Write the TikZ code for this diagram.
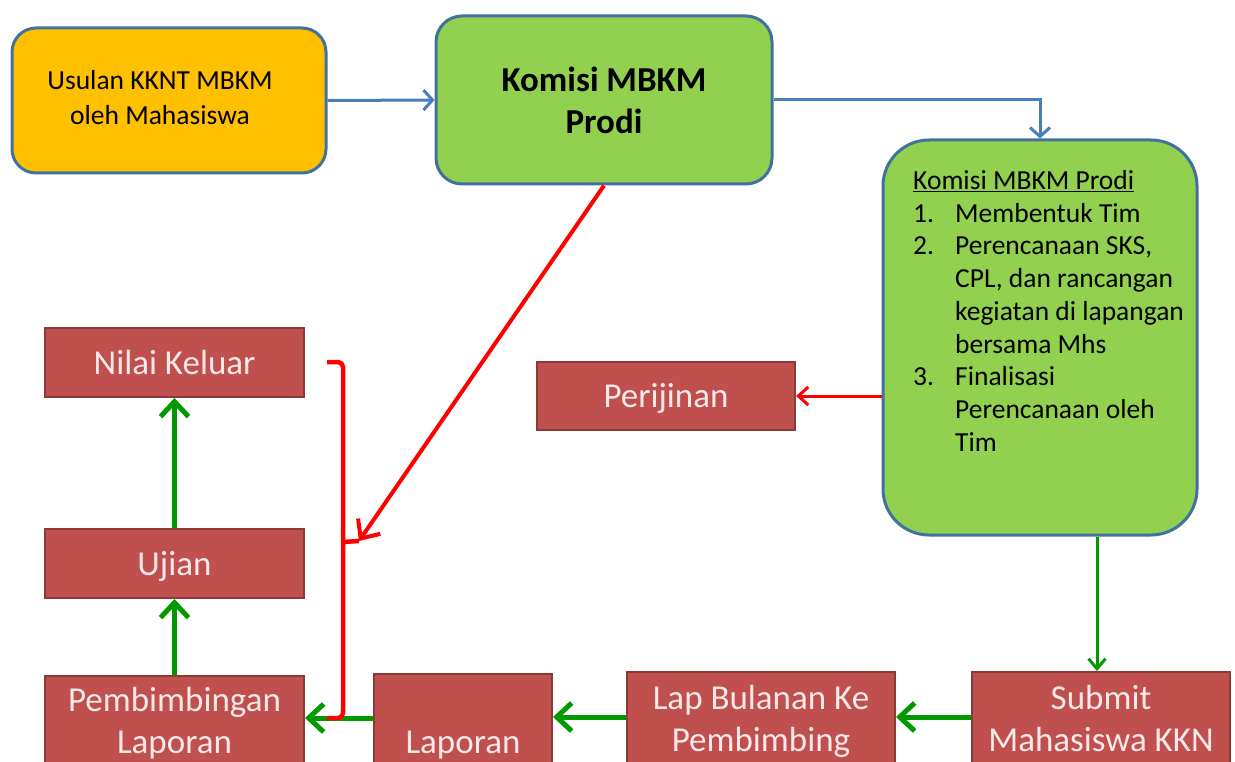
\documentclass[tikz,border=0pt]{standalone}
\usepackage{fontspec}
\setmainfont{Carlito}
\usetikzlibrary{arrows.meta}
\definecolor{boxblue}{HTML}{41719C}
\definecolor{arrblue}{HTML}{4A7EBB}
\definecolor{yel}{HTML}{FFC000}
\definecolor{lgreen}{HTML}{92D050}
\definecolor{rbox}{HTML}{C0504D}
\definecolor{rboxd}{HTML}{8C3A38}
\definecolor{rtext}{HTML}{F8E8E8}
\definecolor{garr}{HTML}{009A00}
\definecolor{rline}{HTML}{FF0000}
\begin{document}
\begin{tikzpicture}[x=1pt,y=-1pt,
  bluebox/.style={draw=boxblue,line width=3pt,inner sep=0pt,align=center},
  redbox/.style={draw=rboxd,fill=rbox,line width=2pt,inner sep=0pt,text=rtext,
    font=\fontsize{35}{42}\selectfont,align=center},
  oneline/.style={text height=30pt,text depth=7pt},
  bluearrow/.style={draw=arrblue,line width=3pt,-{Straight Barb[length=9pt,width=20pt]}},
  greenarrow/.style={draw=garr,line width=5pt,-{Straight Barb[length=15pt,width=28pt]}},
  thingreen/.style={draw=garr,line width=3pt,-{Straight Barb[length=10pt,width=17pt]}},
  redline/.style={draw=rline,line width=4.5pt},
  redarrow/.style={draw=rline,line width=4pt,-{Straight Barb[length=15pt,width=27pt]}},
  thinred/.style={draw=rline,line width=3pt,-{Straight Barb[length=10pt,width=18pt]}}
]
\useasboundingbox (0,0) rectangle (1235,762);
\clip (0,0) rectangle (1235,762);

% top row
\node[bluebox,fill=yel,rounded corners=24pt,minimum width=314pt,minimum height=145pt] (usulan) at (169,100.5) {};
\node[align=center,inner sep=0pt,font=\fontsize{27.5}{35}\selectfont] (usulantxt) at (160,97.5)
  {Usulan KKNT MBKM\\oleh Mahasiswa};
\node[bluebox,fill=lgreen,rounded corners=26pt,minimum width=336pt,minimum height=168pt,
  font=\bfseries\fontsize{35}{42}\selectfont] (komisi) at (604,100) {Komisi MBKM\\Prodi};
\node[bluebox,fill=lgreen,rounded corners=46pt,minimum width=314pt,minimum height=395pt] (tim) at (1040,337.5) {};
\node[anchor=north west,align=left,inner sep=0pt,font=\fontsize{27.5}{32.75}\selectfont] (timtxt) at (913,170)
 {\underline{Komisi MBKM Prodi}\\
  \makebox[42pt][l]{1.}Membentuk Tim\\
  \makebox[42pt][l]{2.}Perencanaan SKS,\\
  \hspace*{42pt}CPL, dan rancangan\\
  \hspace*{42pt}kegiatan di lapangan\\
  \hspace*{42pt}bersama Mhs\\
  \makebox[42pt][l]{3.}Finalisasi\\
  \hspace*{42pt}Perencanaan oleh\\
  \hspace*{42pt}Tim};

% red boxes
\node[redbox,oneline,minimum width=258pt,minimum height=68pt] (perij) at (666,396) {Perijinan};
\node[redbox,oneline,minimum width=259pt,minimum height=69pt] (nilai) at (174.5,362.5) {Nilai Keluar};
\node[redbox,oneline,minimum width=259pt,minimum height=69pt] (ujian) at (174.5,563.5) {Ujian};
\node[redbox,minimum width=259pt,minimum height=94pt] (pemb) at (174.5,723) {Pembimbingan\\Laporan};
\node[redbox,oneline,minimum width=178pt,minimum height=136pt] (lapor) at (463,742) {Laporan};
\node[redbox,minimum width=268pt,minimum height=98pt] (lapbul) at (761,721) {Lap Bulanan Ke\\Pembimbing};
\node[redbox,minimum width=258pt,minimum height=92pt] (submit) at (1101,718) {Submit\\Mahasiswa KKN};

% blue connectors
\draw[bluearrow] (usulan.east) -- (komisi.west);
\draw[bluearrow] (komisi.east) -| (tim.north);

% red connector to Perijinan
\draw[thinred] (tim.west |- perij.east) -- (perij.east);

% green connectors
\draw[thingreen] (tim.south -| 1097,0) -- (submit.north -| 1097,0);
\draw[greenarrow] (submit.west |- 0,717) -- (lapbul.east |- 0,717);
\draw[greenarrow] (lapbul.west |- 0,717) -- (lapor.east |- 0,717);
\draw[greenarrow] (lapor.west |- 0,718) -- (pemb.east |- 0,718);
\draw[greenarrow] (pemb.north) -- (ujian.south);
\draw[greenarrow] (ujian.north) -- (nilai.south);

% red bracket and arrow
\coordinate (bkt) at (327,362);
\coordinate (bkm) at (343,542);
\coordinate (bktip) at (359,541);
\coordinate (bkb) at (327,718);
\draw[redline,rounded corners=5pt] (bkt) -- (343,362) -- (343,718) -- (bkb);
\draw[redline] (bkm) -- (bktip);
\draw[redarrow] (komisi.south) -- (bktip);
\end{tikzpicture}
\end{document}
